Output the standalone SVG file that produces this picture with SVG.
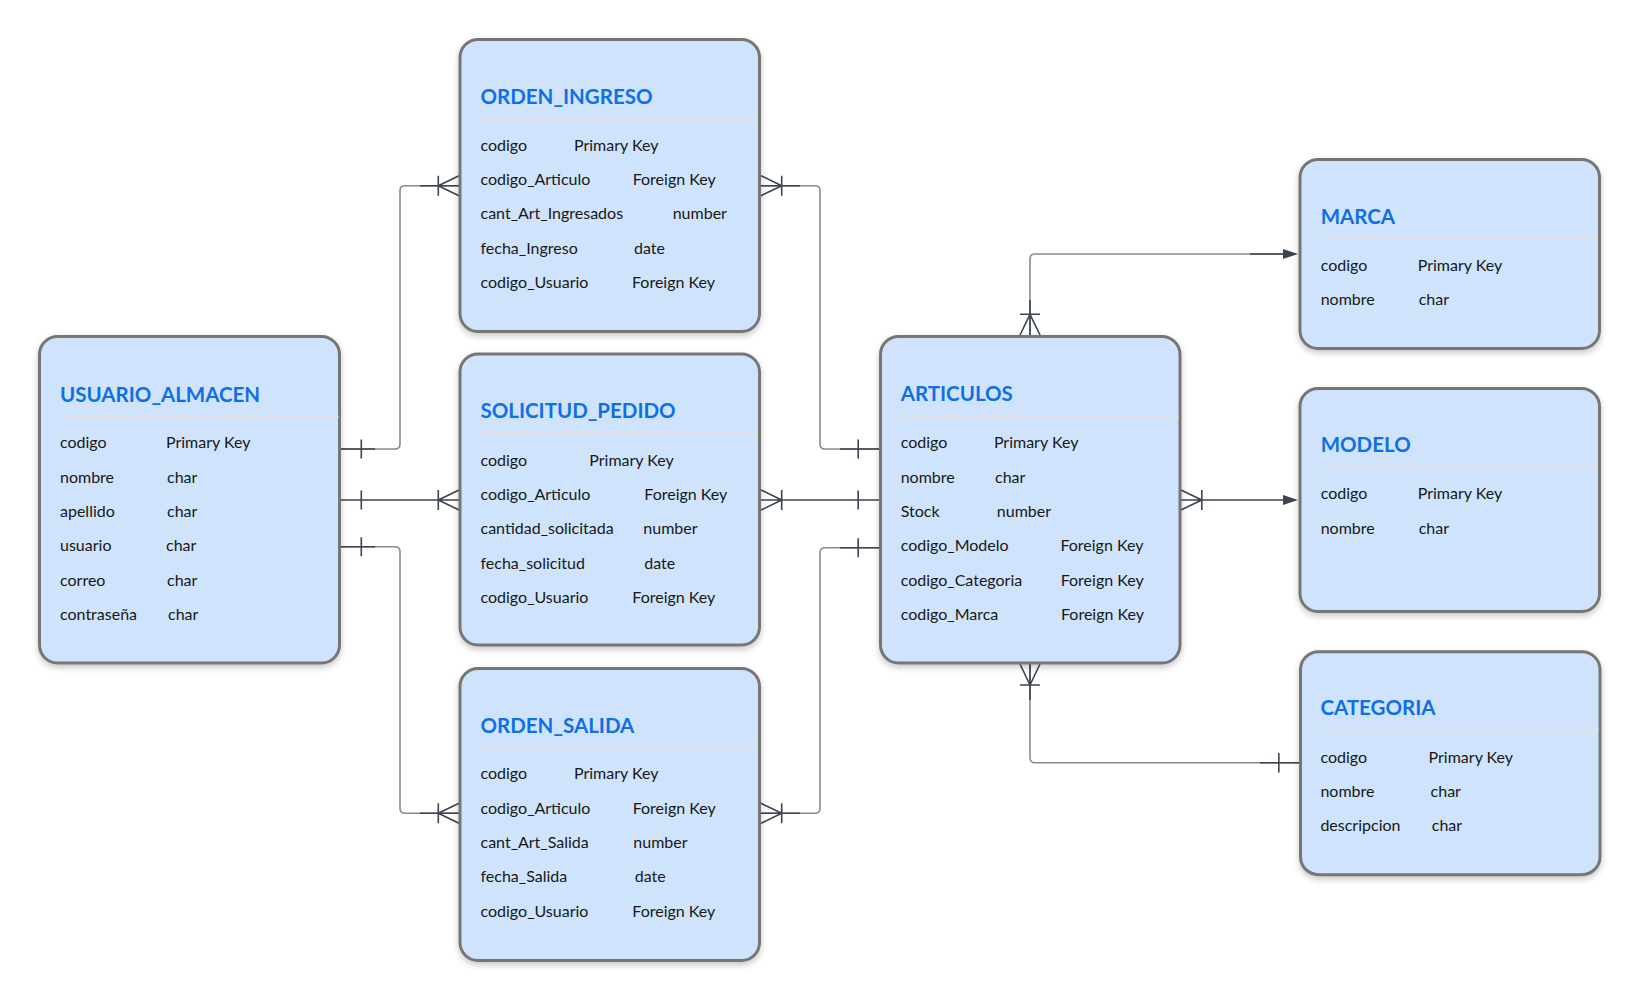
<svg xmlns="http://www.w3.org/2000/svg" width="1640" height="1001" viewBox="0 0 1640 1001">
<style>
.box{fill:#cfe4fc;stroke:#767676;stroke-width:3}
.sep{stroke:#dfe1e4;stroke-width:2.5}
.title{font-family:Lato,"Liberation Sans",sans-serif;font-size:20.5px;font-weight:700;fill:#0f6fe6}
.row{font-family:Lato,"Liberation Sans",sans-serif;font-size:16px;fill:#181818}
.cg{fill:none;stroke:#878c93;stroke-width:1.6}
.cd{fill:none;stroke:#3c4450;stroke-width:1.6}
.ar{fill:#3c4450}
</style>
<defs>
<filter id="sh" x="-10%" y="-10%" width="120%" height="125%">
<feDropShadow dx="0" dy="3" stdDeviation="3" flood-color="#000" flood-opacity="0.22"/>
</filter>
</defs>
<rect width="1640" height="1001" fill="#ffffff"/>

<g id="connectors">
<!-- 1 USUARIO -> ORDEN_INGRESO -->
<path class="cg" d="M340,449 H395 Q400,449 400,444 V190.7 Q400,185.7 405,185.7 H460"/>
<path class="cd" d="M340,449 H375 M420,185.7 H460"/>
<path class="cd" d="M361.3,439.5 V458.5 M438.3,175.7 V195.7 M438.3,185.7 L459,175.7 M438.3,185.7 L459,195.7"/>
<!-- 2 USUARIO -> SOLICITUD -->
<path class="cd" d="M340,500 H460 M361.3,490.5 V509.5 M438.3,490 V510 M438.3,500 L459,490 M438.3,500 L459,510"/>
<!-- 3 USUARIO -> ORDEN_SALIDA -->
<path class="cg" d="M340,546.7 H395 Q400,546.7 400,551.7 V808.3 Q400,813.3 405,813.3 H460"/>
<path class="cd" d="M340,546.7 H375 M420,813.3 H460"/>
<path class="cd" d="M361.3,537.2 V556.2 M438.3,803.3 V823.3 M438.3,813.3 L459,803.3 M438.3,813.3 L459,823.3"/>
<!-- 4 ORDEN_INGRESO -> ARTICULOS -->
<path class="cg" d="M760,185.7 H815 Q820,185.7 820,190.7 V444 Q820,449 825,449 H880"/>
<path class="cd" d="M760,185.7 H800 M840,449 H880"/>
<path class="cd" d="M781.7,175.7 V195.7 M781.7,185.7 L761,175.7 M781.7,185.7 L761,195.7 M858.2,439.5 V458.5"/>
<!-- 5 SOLICITUD -> ARTICULOS -->
<path class="cd" d="M760,500 H880 M781.7,490 V510 M781.7,500 L761,490 M781.7,500 L761,510 M858.2,490.5 V509.5"/>
<!-- 6 ORDEN_SALIDA -> ARTICULOS -->
<path class="cg" d="M760,813.3 H815 Q820,813.3 820,808.3 V552.7 Q820,547.7 825,547.7 H880"/>
<path class="cd" d="M760,813.3 H800 M840,547.7 H880"/>
<path class="cd" d="M781.7,803.3 V823.3 M781.7,813.3 L761,803.3 M781.7,813.3 L761,823.3 M858.2,538.2 V557.2"/>
<!-- 7 ARTICULOS -> MARCA -->
<path class="cg" d="M1030,336 V259 Q1030,254 1035,254 H1284"/>
<path class="cd" d="M1030,336 V300 M1250,254 H1284"/>
<path class="cd" d="M1020,314.3 H1040 M1030,314.3 L1020,335 M1030,314.3 L1040,335"/>
<path class="ar" d="M1298,254 L1283,249 L1283,259 Z"/>
<!-- 8 ARTICULOS -> MODELO -->
<path class="cd" d="M1180,500 H1284 M1201.8,490 V510 M1201.8,500 L1181,490 M1201.8,500 L1181,510"/>
<path class="ar" d="M1298,500 L1283,495 L1283,505 Z"/>
<!-- 9 ARTICULOS -> CATEGORIA -->
<path class="cg" d="M1030,663 V757.7 Q1030,762.7 1035,762.7 H1300"/>
<path class="cd" d="M1030,663 V700 M1260,762.7 H1300"/>
<path class="cd" d="M1020,685 H1040 M1030,685 L1020,664 M1030,685 L1040,664 M1278.8,753 V772.4"/>
</g>

<g id="usuario_almacen">
<rect class="box" filter="url(#sh)" x="39.5" y="336.5" width="300" height="326.5" rx="18"/>
<line class="sep" x1="60" y1="416.7" x2="338.5" y2="416.7"/>
<text class="title" x="60" y="402">USUARIO_ALMACEN</text>
<text class="row" x="60" y="448.3">codigo</text><text class="row" x="166" y="448.3">Primary Key</text>
<text class="row" x="60" y="482.6">nombre</text><text class="row" x="167" y="482.6">char</text>
<text class="row" x="60" y="516.9">apellido</text><text class="row" x="167" y="516.9">char</text>
<text class="row" x="60" y="551.2">usuario</text><text class="row" x="166" y="551.2">char</text>
<text class="row" x="60" y="585.5">correo</text><text class="row" x="167" y="585.5">char</text>
<text class="row" x="60" y="619.8">contraseña</text><text class="row" x="168" y="619.8">char</text>
</g>

<g id="orden_ingreso">
<rect class="box" filter="url(#sh)" x="460" y="39.5" width="299.5" height="292" rx="18"/>
<line class="sep" x1="480.5" y1="119.3" x2="758" y2="119.3"/>
<text class="title" x="480.5" y="104">ORDEN_INGRESO</text>
<text class="row" x="480.5" y="150.7">codigo</text><text class="row" x="574" y="150.7">Primary Key</text>
<text class="row" x="480.5" y="185">codigo_Articulo</text><text class="row" x="632.7" y="185">Foreign Key</text>
<text class="row" x="480.5" y="219.3">cant_Art_Ingresados</text><text class="row" x="672.7" y="219.3">number</text>
<text class="row" x="480.5" y="253.6">fecha_Ingreso</text><text class="row" x="634" y="253.6">date</text>
<text class="row" x="480.5" y="287.9">codigo_Usuario</text><text class="row" x="632" y="287.9">Foreign Key</text>
</g>

<g id="solicitud_pedido">
<rect class="box" filter="url(#sh)" x="460" y="354" width="299.5" height="291" rx="18"/>
<line class="sep" x1="480.5" y1="433.3" x2="758" y2="433.3"/>
<text class="title" x="480.5" y="418.3">SOLICITUD_PEDIDO</text>
<text class="row" x="480.5" y="465.7">codigo</text><text class="row" x="589.3" y="465.7">Primary Key</text>
<text class="row" x="480.5" y="500">codigo_Articulo</text><text class="row" x="644.3" y="500">Foreign Key</text>
<text class="row" x="480.5" y="534.3">cantidad_solicitada</text><text class="row" x="643.3" y="534.3">number</text>
<text class="row" x="480.5" y="568.6">fecha_solicitud</text><text class="row" x="644.3" y="568.6">date</text>
<text class="row" x="480.5" y="602.9">codigo_Usuario</text><text class="row" x="632.3" y="602.9">Foreign Key</text>
</g>

<g id="orden_salida">
<rect class="box" filter="url(#sh)" x="460" y="668.5" width="299.5" height="292" rx="18"/>
<line class="sep" x1="480.5" y1="747.3" x2="758" y2="747.3"/>
<text class="title" x="480.5" y="732.7">ORDEN_SALIDA</text>
<text class="row" x="480.5" y="779.3">codigo</text><text class="row" x="574" y="779.3">Primary Key</text>
<text class="row" x="480.5" y="813.6">codigo_Articulo</text><text class="row" x="632.7" y="813.6">Foreign Key</text>
<text class="row" x="480.5" y="847.9">cant_Art_Salida</text><text class="row" x="633.3" y="847.9">number</text>
<text class="row" x="480.5" y="882.2">fecha_Salida</text><text class="row" x="634.7" y="882.2">date</text>
<text class="row" x="480.5" y="916.5">codigo_Usuario</text><text class="row" x="632.3" y="916.5">Foreign Key</text>
</g>

<g id="articulos">
<rect class="box" filter="url(#sh)" x="880.5" y="336.5" width="299.5" height="326.5" rx="18"/>
<line class="sep" x1="900.7" y1="416.7" x2="1178.5" y2="416.7"/>
<text class="title" x="900.7" y="400.7">ARTICULOS</text>
<text class="row" x="900.7" y="448.3">codigo</text><text class="row" x="993.9" y="448.3">Primary Key</text>
<text class="row" x="900.7" y="482.6">nombre</text><text class="row" x="995" y="482.6">char</text>
<text class="row" x="900.7" y="516.9">Stock</text><text class="row" x="996.8" y="516.9">number</text>
<text class="row" x="900.7" y="551.2">codigo_Modelo</text><text class="row" x="1060.4" y="551.2">Foreign Key</text>
<text class="row" x="900.7" y="585.5">codigo_Categoria</text><text class="row" x="1060.7" y="585.5">Foreign Key</text>
<text class="row" x="900.7" y="619.8">codigo_Marca</text><text class="row" x="1061" y="619.8">Foreign Key</text>
</g>

<g id="marca">
<rect class="box" filter="url(#sh)" x="1300" y="159.5" width="299.5" height="189" rx="18"/>
<line class="sep" x1="1320.7" y1="238.3" x2="1598" y2="238.3"/>
<text class="title" x="1320.7" y="224">MARCA</text>
<text class="row" x="1320.7" y="270.5">codigo</text><text class="row" x="1417.7" y="270.5">Primary Key</text>
<text class="row" x="1320.7" y="304.8">nombre</text><text class="row" x="1418.7" y="304.8">char</text>
</g>

<g id="modelo">
<rect class="box" filter="url(#sh)" x="1300" y="388.5" width="299.5" height="223" rx="18"/>
<line class="sep" x1="1320.7" y1="467.7" x2="1598" y2="467.7"/>
<text class="title" x="1320.7" y="452.3">MODELO</text>
<text class="row" x="1320.7" y="499.3">codigo</text><text class="row" x="1417.7" y="499.3">Primary Key</text>
<text class="row" x="1320.7" y="533.6">nombre</text><text class="row" x="1418.7" y="533.6">char</text>
</g>

<g id="categoria">
<rect class="box" filter="url(#sh)" x="1300.5" y="651.7" width="299.5" height="223" rx="18"/>
<line class="sep" x1="1320.4" y1="730" x2="1598.5" y2="730"/>
<text class="title" x="1320.4" y="715">CATEGORIA</text>
<text class="row" x="1320.4" y="762.7">codigo</text><text class="row" x="1428.6" y="762.7">Primary Key</text>
<text class="row" x="1320.4" y="797">nombre</text><text class="row" x="1430.6" y="797">char</text>
<text class="row" x="1320.4" y="831.3">descripcion</text><text class="row" x="1431.8" y="831.3">char</text>
</g>
</svg>
